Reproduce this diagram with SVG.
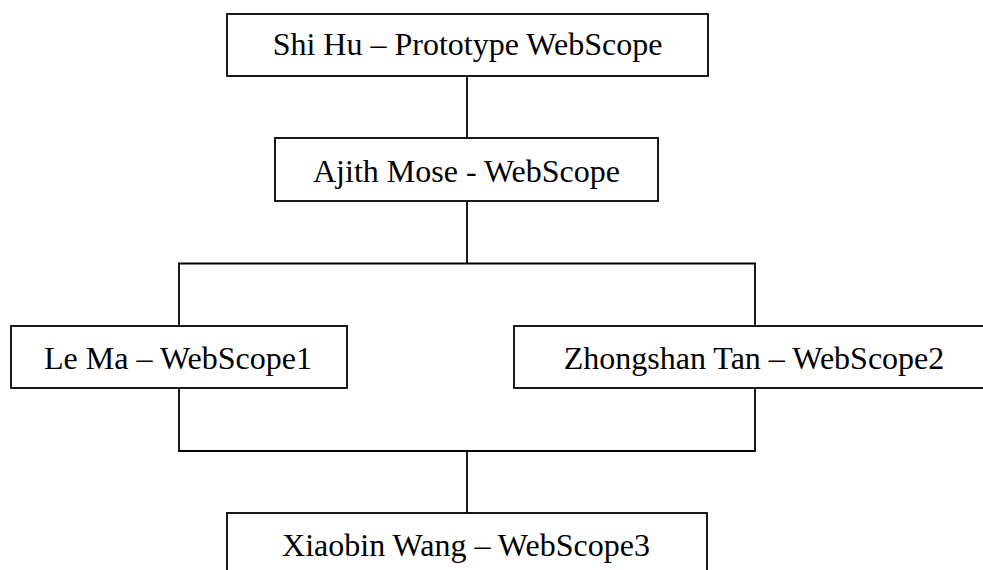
<svg xmlns="http://www.w3.org/2000/svg" width="983" height="570" viewBox="0 0 983 570">
<style>
.box{fill:#fff;stroke:#000;stroke-width:1.8}
.lbl{font-family:"Liberation Serif","Times New Roman",serif;font-size:32px;fill:#000;text-anchor:middle}
.conn{fill:none;stroke:#000;stroke-width:1.8}
</style>
<rect width="983" height="570" fill="#fff"/>
<g id="connectors">
<path class="conn" d="M467 76V138"/>
<path class="conn" d="M467 201V263.5"/>
<path class="conn" d="M179 326V263.5H755V326"/>
<path class="conn" d="M179 388V451H755V388"/>
<path class="conn" d="M467 451V513"/>
</g>
<g id="n1"><rect class="box" x="227" y="14" width="481" height="62"/><text class="lbl" x="467.5" y="54.5">Shi Hu – Prototype WebScope</text></g>
<g id="n2"><rect class="box" x="275" y="138" width="383" height="63"/><text class="lbl" x="466.5" y="181.5">Ajith Mose - WebScope</text></g>
<g id="n3"><rect class="box" x="11" y="326" width="336" height="62"/><text class="lbl" x="178" y="368.5">Le Ma – WebScope1</text></g>
<g id="n4"><rect class="box" x="514" y="326" width="480" height="62"/><text class="lbl" x="754" y="368.5">Zhongshan Tan – WebScope2</text></g>
<g id="n5"><rect class="box" x="227" y="513" width="480" height="70"/><text class="lbl" x="466" y="556">Xiaobin Wang – WebScope3</text></g>
</svg>
